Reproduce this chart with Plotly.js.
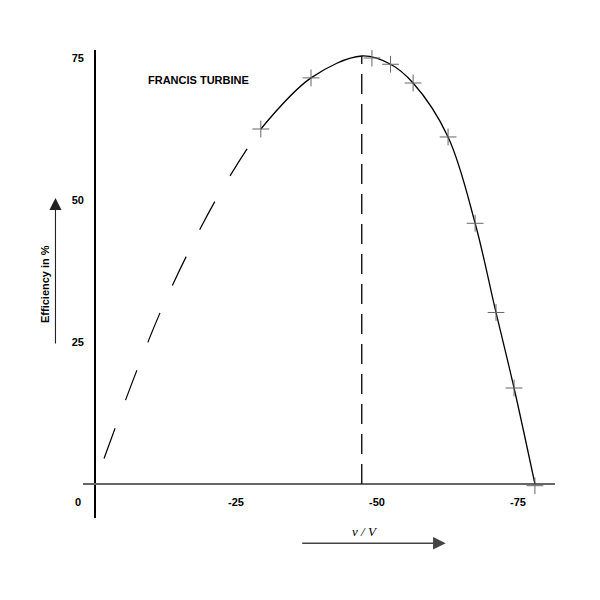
<!DOCTYPE html>
<html>
<head>
<meta charset="utf-8">
<script src="https://cdn.plot.ly/plotly-3.0.1.min.js"></script>
<style>
  body { margin: 0; background: #fff; }
  #chart { width: 600px; height: 600px; }
</style>
</head>
<body>
<div id="chart"></div>
<script>
// Francis turbine: efficiency against speed ratio v/V (drawn as 0 .. -75)

// measured points (plus markers)
var testRatio = [29.4, 38.3, 49.1, 52.4, 56.4, 62.6, 67.4, 71.1, 74.3, 78.0];
var testEff   = [62.5, 71.5, 75.0, 73.9, 70.6, 61.1, 45.9, 30.2, 16.9, -0.3];

// faired curve through the measured points
var curveRatio = [29.4, 38.3, 47.3, 52.4, 56.4, 62.6, 67.4, 71.1, 74.3, 78.0];
var curveEff   = [62.5, 71.5, 75.35, 73.9, 70.6, 61.1, 45.9, 30.2, 16.9, 0];

// extrapolated (dashed) part of the curve
var extraRatio = [1.6, 7.3, 11.6, 16.3, 21.4, 26.9, 29.4];
var extraEff   = [4.5, 19.7, 30.3, 40.3, 50.0, 58.9, 62.5];

// best efficiency point
var bestRatio = [47.3, 47.3];
var bestEff   = [0, 75.35];

var tickVals = [25, 50, 75];
var xTickText = ['-25', '-50', '-75'];
var yTickText = ['25', '50', '75'];

var font = 'Liberation Sans, Arial, Helvetica, sans-serif';

var traces = [
  {
    x: extraRatio, y: extraEff, mode: 'lines', hoverinfo: 'skip',
    line: { color: '#000', width: 1.2, dash: '32px,30px', shape: 'spline' }
  },
  {
    x: curveRatio, y: curveEff, mode: 'lines', hoverinfo: 'skip',
    line: { color: '#000', width: 1.3, shape: 'spline', smoothing: 1 }
  },
  {
    x: bestRatio, y: bestEff, mode: 'lines', hoverinfo: 'skip',
    line: { color: '#000', width: 1.3, dash: '20px,10px' }
  },
  {
    x: testRatio, y: testEff, mode: 'markers', hoverinfo: 'skip',
    marker: { symbol: 'cross-thin-open', size: 12, color: '#666',
              line: { color: '#666', width: 1 } }
  }
];

var layout = {
  width: 600,
  height: 600,
  showlegend: false,
  paper_bgcolor: '#fff',
  plot_bgcolor: '#fff',
  margin: { l: 83, r: 45, t: 50, b: 82 },
  xaxis: {
    range: [-2.128, 81.56],
    anchor: 'free', position: 0.0726,
    showgrid: false, showline: false,
    zeroline: true, zerolinecolor: '#000', zerolinewidth: 1.2,
    tickvals: tickVals, ticktext: xTickText, ticks: '',
    ticklabelstandoff: 10,
    tickfont: { family: font, size: 11, color: '#000', weight: 'bold' }
  },
  yaxis: {
    range: [-5.986, 76.41],
    anchor: 'free', position: 0.0254,
    showgrid: false, showline: false,
    zeroline: true, zerolinecolor: '#666', zerolinewidth: 1.5,
    tickvals: tickVals, ticktext: yTickText, ticks: '',
    ticklabelstandoff: 11,
    tickfont: { family: font, size: 11, color: '#000', weight: 'bold' }
  },
  annotations: [
    { xref: 'paper', yref: 'paper', x: 0.1335, y: 0.9359,
      xanchor: 'left', yanchor: 'middle', showarrow: false,
      text: 'FRANCIS TURBINE',
      font: { family: font, size: 11, color: '#000', weight: 'bold' } },
    { xref: 'paper', yref: 'paper', x: -0.01, y: 0.0348,
      xanchor: 'center', yanchor: 'middle', showarrow: false, text: '0',
      font: { family: font, size: 11, color: '#000', weight: 'bold' } },
    { xref: 'paper', yref: 'paper', x: -0.0805, y: 0.5,
      xanchor: 'center', yanchor: 'middle', showarrow: false,
      textangle: -90, text: 'Efficiency in %',
      font: { family: font, size: 11, color: '#000', weight: 'bold' } },
    { xref: 'paper', yref: 'paper', x: -0.0583, y: 0.6838,
      ax: 0, ay: 147, text: '', showarrow: true,
      arrowhead: 2, arrowsize: 2.2, arrowwidth: 1.1, arrowcolor: '#222' },
    { xref: 'paper', yref: 'paper', x: 0.597, y: -0.029,
      xanchor: 'center', yanchor: 'middle', showarrow: false,
      text: 'v / V',
      font: { family: 'Liberation Serif, Times New Roman, serif', size: 13,
              color: '#000', style: 'italic' } },
    { xref: 'paper', yref: 'paper', x: 0.7684, y: -0.054,
      ax: -145, ay: 0, text: '', showarrow: true,
      arrowhead: 2, arrowsize: 1.8, arrowwidth: 1.4, arrowcolor: '#444' }
  ]
};

Plotly.newPlot('chart', traces, layout, { staticPlot: true, displayModeBar: false });
</script>
</body>
</html>
